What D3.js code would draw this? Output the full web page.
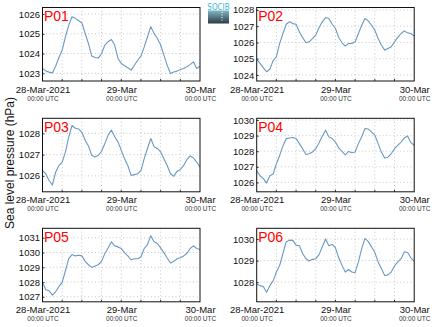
<!DOCTYPE html>
<html><head><meta charset="utf-8">
<script src="https://cdn.jsdelivr.net/npm/d3@7"></script>
<style>body{margin:0;background:#fff}svg{display:block;font-family:"Liberation Sans",Arial,sans-serif}</style>
</head><body><svg id="c" width="434" height="327"></svg>
<script>
const stations = ["P01","P02","P03","P04","P05","P06"];
const startTime = "2021-03-28T00:00:00Z";
const hoursSpan = 48;
const xTickLabels = ["28-Mar-2021","29-Mar","30-Mar"];
const xTickSub = "00:00 UTC";
const yTicks = [[1023,1024,1025,1026],[1024,1025,1026,1027,1028],[1026,1027,1028],[1026,1027,1028,1029,1030],[1027,1028,1029,1030,1031],[1028,1029,1030]];
const yDomains = [[1022.61,1026.33],[1023.63,1028.15],[1025.25,1028.71],[1025.4,1030.11],[1026.66,1031.64],[1027.09,1030.5]];
const p01 = [1023.24,1023.12,1023.06,1023.02,1023.36,1023.8,1024.17,1024.85,1025.44,1025.86,1025.78,1025.66,1025.56,1025.02,1024.51,1023.87,1023.8,1023.77,1024.0,1024.43,1024.6,1024.71,1024.43,1023.75,1023.5,1023.38,1023.28,1023.16,1023.41,1023.66,1023.87,1024.34,1024.85,1025.36,1025.02,1024.76,1024.43,1023.92,1023.41,1022.99,1023.07,1023.11,1023.19,1023.24,1023.33,1023.44,1023.58,1023.24,1023.36];
const p02 = [1024.96,1024.71,1024.45,1024.2,1024.35,1024.88,1025.12,1025.94,1026.55,1027.12,1027.27,1027.16,1027.12,1026.65,1026.31,1025.98,1026.04,1026.24,1026.45,1026.92,1027.27,1027.53,1027.47,1027.12,1026.86,1026.31,1025.98,1025.78,1025.94,1025.94,1026.04,1026.55,1027.06,1027.47,1027.33,1027.06,1026.76,1026.24,1025.84,1025.53,1025.63,1025.73,1026.04,1026.31,1026.55,1026.71,1026.59,1026.55,1026.39];
const p03 = [1026.25,1026.1,1025.78,1025.57,1026.17,1026.49,1026.65,1027.13,1027.84,1028.37,1028.24,1028.21,1028.05,1027.68,1027.41,1026.97,1026.89,1026.97,1027.16,1027.52,1027.92,1028.16,1027.84,1027.6,1027.21,1026.81,1026.49,1026.02,1026.06,1026.1,1026.25,1026.81,1027.29,1027.76,1027.37,1027.29,1027.13,1026.81,1026.49,1026.1,1025.98,1026.21,1026.3,1026.49,1026.76,1026.94,1026.84,1026.65,1026.41];
const p04 = [1026.76,1026.43,1026.26,1025.96,1026.43,1026.54,1027.19,1027.73,1028.34,1028.81,1028.85,1028.88,1028.81,1028.49,1028.16,1027.79,1027.84,1027.95,1028.16,1028.55,1028.98,1029.35,1028.92,1028.81,1028.59,1028.21,1027.99,1027.77,1027.99,1027.9,1027.95,1028.49,1028.92,1029.46,1029.42,1029.24,1029.03,1028.49,1027.95,1027.56,1027.62,1027.84,1028.16,1028.38,1028.59,1028.85,1028.98,1028.55,1028.38];
const p05 = [1027.98,1027.48,1027.41,1027.11,1027.34,1027.69,1027.98,1028.78,1029.58,1029.86,1029.77,1029.81,1029.77,1029.4,1029.17,1028.99,1029.08,1029.17,1029.4,1029.93,1030.31,1030.73,1030.45,1030.38,1030.27,1029.99,1029.77,1029.51,1029.58,1029.58,1029.7,1030.27,1030.54,1031.14,1030.73,1030.61,1030.31,1029.99,1029.63,1029.29,1029.4,1029.58,1029.65,1029.77,1029.93,1030.27,1030.45,1030.27,1030.2];
const p06 = [1027.92,1027.84,1027.8,1027.53,1027.84,1028.06,1028.47,1028.78,1029.33,1029.88,1029.95,1029.94,1029.72,1029.69,1029.33,1029.09,1028.98,1029.06,1029.09,1029.28,1029.64,1030.0,1029.69,1029.75,1029.59,1029.13,1028.78,1028.47,1028.59,1028.47,1028.44,1028.94,1029.56,1030.03,1029.88,1029.64,1029.38,1028.94,1028.63,1028.31,1028.34,1028.47,1028.75,1028.94,1029.09,1029.41,1029.38,1029.13,1028.97];
const series = [p01,p02,p03,p04,p05,p06];

const svg = d3.select("#c");
const t0 = new Date(startTime);
const t1 = d3.utcHour.offset(t0, hoursSpan);
const colX = [42.5, 256.7], colW = 157.5;
const rowY = [7.5, 118.3, 228.3], rowH = 73.5;
const defs = svg.append("defs");

series.forEach((vals, i) => {
  const L = colX[i % 2], T = rowY[Math.floor(i / 2)];
  const g = svg.append("g").attr("transform", `translate(${L},${T})`);
  const x = d3.scaleUtc().domain([t0, t1]).range([0, colW]);
  const y = d3.scaleLinear().domain(yDomains[i]).range([rowH, 0]);
  const gridTimes = d3.range(6, hoursSpan, 6).map(h => d3.utcHour.offset(t0, h));
  g.append("g").selectAll("line").data(gridTimes).join("line")
    .attr("x1", d => x(d)).attr("x2", d => x(d)).attr("y1", 0).attr("y2", rowH)
    .attr("stroke", "#c8c8c8").attr("stroke-dasharray", "1,2.5").attr("stroke-width", 1);
  g.append("g").selectAll("line").data(yTicks[i]).join("line")
    .attr("x1", 0).attr("x2", colW).attr("y1", d => y(d)).attr("y2", d => y(d))
    .attr("stroke", "#c8c8c8").attr("stroke-dasharray", "1,2.5").attr("stroke-width", 1);
  g.append("g").selectAll("line").data(gridTimes).join("line")
    .attr("x1", d => x(d)).attr("x2", d => x(d)).attr("y1", rowH).attr("y2", rowH - 2)
    .attr("stroke", "#333");
  const ya = g.append("g").call(d3.axisLeft(y).tickValues(yTicks[i]).tickSize(2).tickPadding(2).tickFormat(d3.format("d")));
  ya.select(".domain").remove();
  ya.selectAll(".tick line").attr("x2", 2).attr("stroke", "#333");
  ya.selectAll("text").attr("font-size", 9.5).attr("fill", "#111").attr("x", -2.5);
  const xTicks = [0, 24, 48].map(h => d3.utcHour.offset(t0, h));
  const xa = g.append("g").attr("transform", `translate(0,${rowH})`)
    .call(d3.axisBottom(x).tickValues(xTicks).tickSize(0).tickPadding(0).tickFormat((d, k) => xTickLabels[k]));
  xa.select(".domain").remove();
  xa.selectAll(".tick text").attr("font-size", 9.5).attr("fill", "#111").attr("dy", null).attr("y", 11.5);
  xa.selectAll(".tick").append("text").text(xTickSub)
    .attr("y", 19.5).attr("font-size", 6.5).attr("fill", "#333").attr("text-anchor", "middle");
  const cid = "clip" + i;
  defs.append("clipPath").attr("id", cid).append("rect").attr("width", colW).attr("height", rowH);
  const line = d3.line().x((d, k) => x(d3.utcHour.offset(t0, k))).y(d => y(d));
  g.append("path").datum(vals).attr("d", line).attr("fill", "none")
    .attr("stroke", "#6b98c2").attr("stroke-width", 1.1).attr("stroke-linejoin", "round").attr("clip-path", `url(#${cid})`);
  g.append("rect").attr("width", colW).attr("height", rowH).attr("fill", "none").attr("stroke", "#111").attr("stroke-width", 1);
  g.append("text").text(stations[i]).attr("x", 1.5).attr("y", 13.5).attr("font-size", 14).attr("fill", "#f00");
});

svg.append("text").text("Sea level pressure (hPa)")
  .attr("transform", "translate(14,163) rotate(-90)").attr("text-anchor", "middle")
  .attr("font-size", 12).attr("fill", "#111");

const grad = defs.append("linearGradient").attr("id", "lg").attr("x1", 0).attr("x2", 0).attr("y1", 0).attr("y2", 1);
grad.append("stop").attr("offset", "0%").attr("stop-color", "#7fb7c4");
grad.append("stop").attr("offset", "100%").attr("stop-color", "#2e3b45");
const logo = svg.append("g").attr("transform", "translate(208,3)");
logo.append("text").text("SOCIB").attr("x", 10.5).attr("y", 6.5).attr("text-anchor", "middle")
  .attr("font-size", 8).attr("fill", "#3ab7d6").attr("font-family", "DejaVu Sans Condensed, sans-serif");
logo.append("rect").attr("y", 7.5).attr("width", 21).attr("height", 13).attr("fill", "url(#lg)");
logo.append("line").attr("x1", 14).attr("x2", 14).attr("y1", 9).attr("y2", 19).attr("stroke", "#fff").attr("stroke-dasharray", "1,1.5");
</script></body></html>
